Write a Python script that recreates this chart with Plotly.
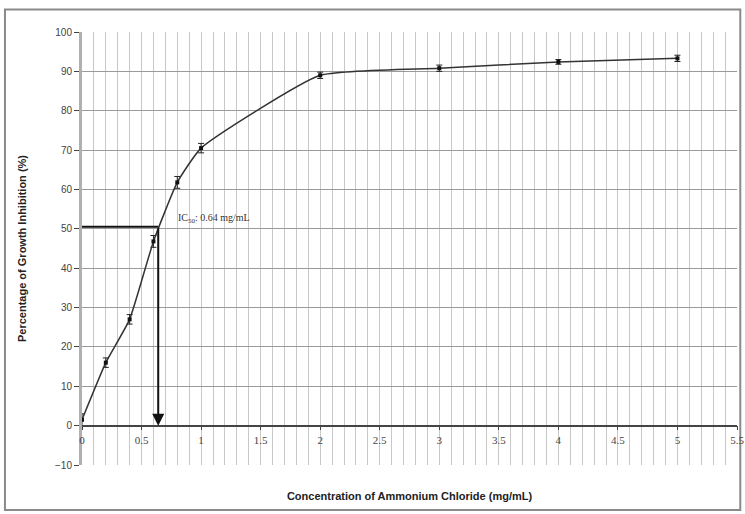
import plotly.graph_objects as go

# Data
conc = [0, 0.2, 0.4, 0.6, 0.8, 1.0, 2.0, 3.0, 4.0, 5.0]
inhibition = [1.5, 16, 27, 46.8, 61.8, 70.5, 89, 90.8, 92.4, 93.3]
err = [1.5, 1.2, 1.2, 1.5, 1.5, 1.2, 0.8, 0.8, 0.6, 0.8]
ic50_x = 0.64
ic50_y = 50.5
ic50_label = "IC<sub>50</sub>: 0.64 mg/mL"
x_ticks = [0, 0.5, 1, 1.5, 2, 2.5, 3, 3.5, 4, 4.5, 5, 5.5]
x_ticktext = ["0", "0.5", "1", "1.5", "2", "2.5", "3", "3.5", "4", "4.5", "5", "5.5"]
y_ticks = [-10, 0, 10, 20, 30, 40, 50, 60, 70, 80, 90, 100]

fig = go.Figure()

fig.add_trace(go.Scatter(
    x=conc, y=inhibition, mode="lines+markers",
    line=dict(color="#333333", width=1.5, shape="spline", smoothing=0.45),
    marker=dict(symbol="square", size=4, color="#111111"),
    error_y=dict(type="data", array=err, visible=True, color="#222222", thickness=1, width=3),
    showlegend=False, hoverinfo="skip",
))

# IC50 horizontal line
fig.add_trace(go.Scatter(
    x=[0, ic50_x], y=[ic50_y, ic50_y], mode="lines",
    line=dict(color="#111111", width=2), showlegend=False, hoverinfo="skip",
))

# IC50 vertical arrow
fig.add_annotation(
    x=ic50_x, y=0, ax=ic50_x, ay=ic50_y, xref="x", yref="y", axref="x", ayref="y",
    showarrow=True, arrowhead=2, arrowsize=1.2, arrowwidth=2, arrowcolor="#111111", text="",
)
fig.add_annotation(
    x=0.79, y=ic50_y, xref="x", yref="y", text=ic50_label, showarrow=False,
    xanchor="left", yanchor="bottom", font=dict(family="Liberation Serif", size=10, color="#333333"),
)

# outer frame
fig.add_shape(type="rect", xref="paper", yref="paper", x0=-0.1176, x1=1.005, y0=-0.104, y1=1.052,
              line=dict(color="#8a8a8a", width=2), layer="below")

fig.update_layout(
    width=745, height=514,
    margin=dict(l=82, r=8, t=32, b=49),
    paper_bgcolor="white", plot_bgcolor="white",
    xaxis=dict(
        range=[0, 5.5], tickvals=x_ticks, ticktext=x_ticktext,
        anchor="free", position=10 / 110, automargin=False,
        showline=True, linecolor="#444444", linewidth=1.5,
        ticks="outside", ticklen=4, tickcolor="#444444",
        showgrid=True, gridcolor="#c8c8c8", gridwidth=1.2,
        minor=dict(dtick=0.1, tick0=0, showgrid=True, gridcolor="#c8c8c8", gridwidth=1.2),
        zeroline=False,
        tickfont=dict(family="Liberation Serif", size=11, color="#444444"),
        title=dict(text="<b>Concentration of Ammonium Chloride (mg/mL)</b>",
                   font=dict(family="Liberation Sans", size=11, color="#222222"), standoff=47),
    ),
    yaxis=dict(
        range=[-10, 100], tickvals=y_ticks, automargin=False,
        showline=True, linecolor="#b0b0b0", linewidth=3,
        ticks="outside", ticklen=5, tickcolor="#444444",
        showgrid=True, gridcolor="#9a9a9a", gridwidth=1.2,
        zeroline=False,
        tickfont=dict(family="Liberation Sans", size=10, color="#444444"),
        title=dict(text="<b>Percentage of Growth Inhibition (%)</b>",
                   font=dict(family="Liberation Sans", size=11, color="#222222"), standoff=27),
    ),
)

fig.write_html("out.html", config={"displayModeBar": False},
               post_script="document.body.style.margin='0';")
